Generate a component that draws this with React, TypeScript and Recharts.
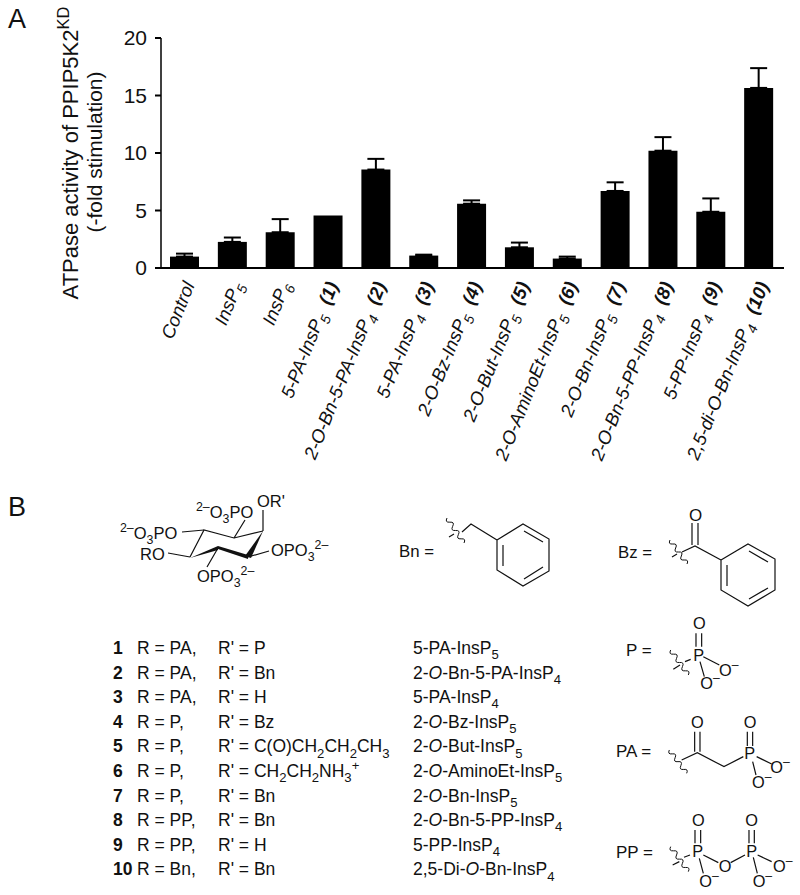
import { Bar, BarChart, ErrorBar, XAxis, YAxis } from "recharts";

const FONT = "'Liberation Sans', Arial, sans-serif";
const INK = "#111";

const categories = [
  "Control",
  "InsP~5~",
  "InsP~6~",
  "5-PA-InsP~5~",
  "2-O-Bn-5-PA-InsP~4~",
  "5-PA-InsP~4~",
  "2-O-Bz-InsP~5~",
  "2-O-But-InsP~5~",
  "2-O-AminoEt-InsP~5~",
  "2-O-Bn-InsP~5~",
  "2-O-Bn-5-PP-InsP~4~",
  "5-PP-InsP~4~",
  "2,5-di-O-Bn-InsP~4~",
];
const compoundTags = ["", "", "", "1", "2", "3", "4", "5", "6", "7", "8", "9", "10"];
const stimulation = [0.99, 2.27, 3.11, 4.57, 8.56, 1.08, 5.59, 1.8, 0.82, 6.7, 10.2, 4.89, 15.66];
const errorUp = [0.26, 0.38, 1.14, 0, 0.93, 0.08, 0.29, 0.41, 0.17, 0.75, 1.18, 1.16, 1.72];
const yTicks = [0, 5, 10, 15, 20];

const rowIds = ["1", "2", "3", "4", "5", "6", "7", "8", "9", "10"];
const rValues = ["PA", "PA", "PA", "P", "P", "P", "P", "PP", "PP", "Bn"];
const rPrimeValues = [
  "P",
  "Bn",
  "H",
  "Bz",
  "C(O)CH~2~CH~2~CH~3~",
  "CH~2~CH~2~NH~3~^+^",
  "Bn",
  "Bn",
  "H",
  "Bn",
];
const rowNames = [
  "5-PA-InsP~5~",
  "2-*O*-Bn-5-PA-InsP~4~",
  "5-PA-InsP~4~",
  "2-*O*-Bz-InsP~5~",
  "2-*O*-But-InsP~5~",
  "2-*O*-AminoEt-InsP~5~",
  "2-*O*-Bn-InsP~5~",
  "2-*O*-Bn-5-PP-InsP~4~",
  "5-PP-InsP~4~",
  "2,5-Di-*O*-Bn-InsP~4~",
];

const chartData = categories.map((name, i) => ({
  name,
  tag: compoundTags[i],
  value: stimulation[i],
  err: errorUp[i] > 0 ? [0, errorUp[i]] : null,
}));

// small markup: ~sub~ ^sup^ *italic* #bold#
function richSpans(markup: string, size: number) {
  const tokens = markup.split(/(~[^~]+~|\^[^^]+\^|\*[^*]+\*|#[^#]+#)/).filter(Boolean);
  let shift = 0;
  return tokens.map((token, i) => {
    const mark = token[0];
    const isMarked = "~^*#".includes(mark) && token.length > 2;
    const body = isMarked ? token.slice(1, -1) : token;
    let next = 0;
    if (isMarked && mark === "~") next = size * 0.3;
    if (isMarked && mark === "^") next = -size * 0.42;
    const dy = next - shift;
    shift = next;
    return (
      <tspan
        key={i}
        dy={dy}
        fontSize={isMarked && (mark === "~" || mark === "^") ? size * 0.75 : size}
        fontStyle={isMarked && mark === "*" ? "italic" : undefined}
        fontWeight={isMarked && mark === "#" ? "bold" : undefined}
      >
        {body}
      </tspan>
    );
  });
}

function Rich({ x, y, text, size = 17.5, anchor, weight }: any) {
  return (
    <text x={x} y={y} fontFamily={FONT} fontSize={size} fill={INK} textAnchor={anchor} fontWeight={weight}>
      {richSpans(text, size)}
    </text>
  );
}

function CompoundTick({ x, y, payload, index }: any) {
  const tag = compoundTags[index];
  const ax = x + 10;
  const ay = y + 9;
  const size = 18.5;
  const label = tag ? `${payload.value}\u00a0 #(${tag})#` : payload.value;
  return (
    <text
      x={ax}
      y={ay}
      transform={`rotate(-68 ${ax} ${ay})`}
      textAnchor="end"
      fontFamily={FONT}
      fontSize={size}
      fontStyle="italic"
      fill={INK}
    >
      {richSpans(label, size)}
    </text>
  );
}

function Line({ d, w = 1.2 }: { d: string; w?: number }) {
  return <path d={d} fill="none" stroke={INK} strokeWidth={w} />;
}

// wavy "attachment" bond between two points
function Squiggle({ x1, y1, x2, y2, w = 1 }: any) {
  const turns = 6;
  const dx = (x2 - x1) / turns;
  const dy = (y2 - y1) / turns;
  let d = `M${x1} ${y1}`;
  for (let i = 0; i < turns; i++) {
    const s = i % 2 === 0 ? 0.9 : -0.9;
    d += ` Q${x1 + dx * (i + 0.5) - dy * s} ${y1 + dy * (i + 0.5) + dx * s} ${x1 + dx * (i + 1)} ${y1 + dy * (i + 1)}`;
  }
  return <Line d={d} w={w} />;
}

function PanelB() {
  const t = (x: number, y: number, text: string, size = 16.5) => <Rich x={x} y={y} text={text} size={size} />;
  return (
    <svg width={800} height={895} style={{ position: "absolute", left: 0, top: 0 }}>
      <text x={8} y={28} fontFamily={FONT} fontSize={27} fill={INK}>A</text>
      <text x={8} y={516} fontFamily={FONT} fontSize={27} fill={INK}>B</text>

      {/* inositol ring */}
      <Line d="M190 557 L204 530 L234 538 L263 531" />
      <Line d="M263 531 V510 M234 538 L245 520 M204 530 L182 532 M190 557 L168 553 M248 557 L269 551 M218 548 L207 567" />
      <path d="M263 531 L251 558 L245 556 Z" fill={INK} />
      <path d="M248 559 L218 549 L218 546 L248 555 Z" fill={INK} />
      <path d="M218 546 L218 550 L190 558 Z" fill={INK} />
      {t(257, 507, "OR'")}
      {t(196, 518, "^2–^O~3~PO")}
      {t(120, 539, "^2–^O~3~PO")}
      {t(140, 560, "RO")}
      {t(271, 556, "OPO~3~^2–^")}
      {t(197, 582, "OPO~3~^2–^")}

      {/* Bn */}
      {t(399, 557, "Bn =", 16.8)}
      <Squiggle x1={447} y1={518} x2={464} y2={543} />
      <Line d="M449 537 L454 534 M462 532 L471 524 L497 540 M497 540 L523 524 L549 539 V571 L523 586 L497 570 Z" />
      <Line d="M503 545 V566 M524 531 L543 542 M524 579 L543 567" />

      {/* Bz */}
      {t(618, 558, "Bz =", 16.8)}
      {t(689, 521, "O", 17)}
      <Line d="M692 523 V545 M698 523 V545" />
      <Squiggle x1={670} y1={540} x2={687} y2={564} />
      <Line d="M672 557 L677 554 M682 552 L695 546 L721 560 M721 560 L748 544 L775 559 V590 L748 606 L721 590 Z" />
      <Line d="M727 565 V586 M749 551 L768 562 M749 599 L768 588" />

      {/* P, PA, PP */}
      <g transform="translate(600 610) scale(0.3333)">
        <Rich x={78} y={137} size={51} text="P =" />
        <Rich x={280} y={152} size={49} text="P" />
        <Rich x={279} y={58} size={49} text="O" />
        <Rich x={357} y={197} size={49} text="O^–^" />
        <Rich x={301} y={238} size={49} text="O^–^" />
        <Line w={3.6} d="M288 70 V110 M305 70 V110 M310 140 L358 165 M300 155 L313 200 M220 178 L240 165 M255 155 L272 148" />
        <Squiggle x1={212} y1={120} x2={265} y2={195} w={3} />

        <Rich x={48} y={440} size={51} text="PA =" />
        <Rich x={273} y={355} size={49} text="O" />
        <Rich x={431} y={355} size={49} text="O" />
        <Rich x={433} y={447} size={49} text="P" />
        <Rich x={511} y={490} size={49} text="O^–^" />
        <Rich x={456} y={534} size={49} text="O^–^" />
        <Line w={3.6} d="M284 365 V425 M300 365 V425 M245 450 L292 428 L372 470 L430 440 M442 365 V408 M458 365 V408 M470 440 L515 462 M458 455 L468 495" />
        <Squiggle x1={208} y1={420} x2={260} y2={490} w={3} />

        <Rich x={48} y={745} size={51} text="PP =" />
        <Rich x={276} y={648} size={49} text="O" />
        <Rich x={436} y={648} size={49} text="O" />
        <Rich x={277} y={742} size={49} text="P" />
        <Rich x={439} y={740} size={49} text="P" />
        <Rich x={356} y={786} size={49} text="O" />
        <Rich x={298} y={830} size={49} text="O^–^" />
        <Rich x={458} y={830} size={49} text="O^–^" />
        <Rich x={519} y={786} size={49} text="O^–^" />
        <Line w={3.6} d="M285 660 V700 M302 660 V700 M447 660 V700 M463 660 V700 M310 735 L355 758 M392 758 L435 735 M298 745 L310 790 M460 742 L472 790 M473 735 L515 755 M218 765 L238 755 M252 742 L270 735" />
        <Squiggle x1={212} y1={710} x2={265} y2={785} w={3} />
      </g>

      {/* compound table */}
      {rowIds.map((id, i) => {
        const y = 654 + i * 24.6;
        return (
          <g key={id}>
            <Rich x={113} y={y} text={id} weight="bold" />
            <Rich x={137} y={y} text={`R = ${rValues[i]},`} />
            <Rich x={218} y={y} text={`R' = ${rPrimeValues[i]}`} />
            <Rich x={413} y={y} text={rowNames[i]} />
          </g>
        );
      })}
    </svg>
  );
}

export default function App() {
  return (
    <div style={{ position: "absolute", left: 0, top: 0, width: 800, height: 895, background: "#fff" }}>
      <BarChart
        width={800}
        height={895}
        data={chartData}
        margin={{ top: 38, right: 16, bottom: 407, left: 101 }}
        barCategoryGap={19}
      >
        <XAxis
          dataKey="name"
          interval={0}
          height={220}
          tickLine={false}
          axisLine={{ stroke: "#000", strokeWidth: 2 }}
          tick={<CompoundTick />}
          padding={{ left: 0, right: 1 }}
        />
        <YAxis
          width={60}
          domain={[0, 20]}
          ticks={yTicks}
          tickSize={6}
          tickMargin={8}
          interval={0}
          tickLine={{ stroke: "#000", strokeWidth: 2 }}
          axisLine={{ stroke: "#000", strokeWidth: 1.5 }}
          tick={{ fontFamily: FONT, fontSize: 21, fill: INK }}
        />
        <Bar dataKey="value" fill="#000" barSize={29} isAnimationActive={false}>
          <ErrorBar dataKey="err" direction="y" width={8.5} stroke="#000" strokeWidth={2} isAnimationActive={false} />
        </Bar>
      </BarChart>

      <svg width={800} height={895} style={{ position: "absolute", left: 0, top: 0, pointerEvents: "none" }}>
        <text
          transform="translate(78 153) rotate(-90)"
          textAnchor="middle"
          fontFamily={FONT}
          fontSize={22}
          fill={INK}
        >
          {richSpans("ATPase activity of PPIP5K2^KD^", 22)}
        </text>
        <text
          transform="translate(102 152) rotate(-90)"
          textAnchor="middle"
          fontFamily={FONT}
          fontSize={21}
          fill={INK}
        >
          (-fold stimulation)
        </text>
      </svg>
      <PanelB />
    </div>
  );
}
